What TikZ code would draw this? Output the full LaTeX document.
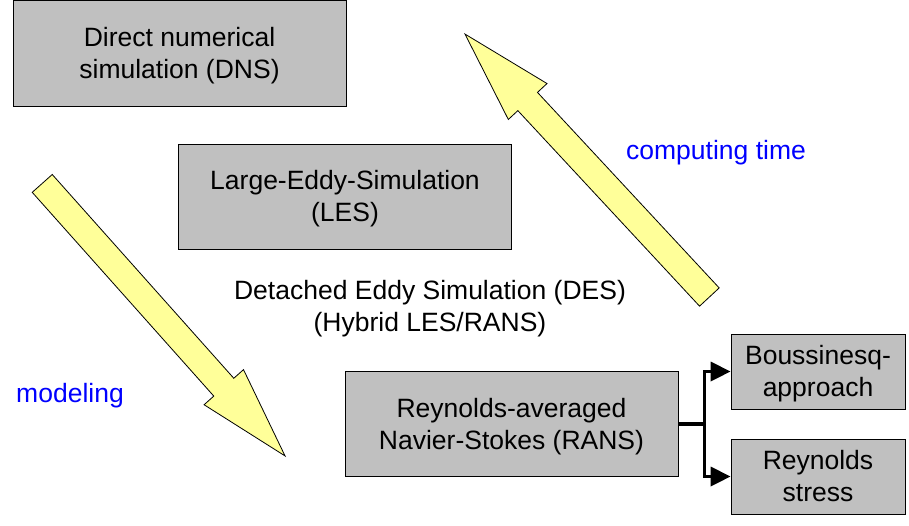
\documentclass[tikz,border=0pt]{standalone}
\usepackage{fontspec}
\setmainfont{Liberation Sans}
\usepackage{xcolor}
\usetikzlibrary{arrows.meta, positioning, shapes.arrows, calc}

\definecolor{boxgray}{HTML}{C0C0C0}
\definecolor{arrowyellow}{HTML}{FFFF99}

\begin{document}
\begin{tikzpicture}[
  x=1pt, y=-1pt,
  font=\fontsize{26.5}{32}\selectfont,
  twoline/.style={align=center, execute at begin node={\rule{0pt}{56pt}}, execute at end node={\rule[-5.6pt]{0pt}{0pt}}},
  oneline/.style={execute at begin node={\rule[-5.6pt]{0pt}{29.6pt}}},
  box/.style={draw, line width=0.8pt, fill=boxgray, minimum width=333pt, minimum height=106pt, inner sep=0pt, twoline},
  smallbox/.style={box, minimum width=174pt, minimum height=75pt},
  note/.style={text=blue, oneline},
  bigarrow/.style={single arrow, draw, line width=0.8pt, fill=arrowyellow, inner xsep=0pt, inner ysep=13pt,
    single arrow head extend=13pt, single arrow tip angle=32, single arrow head indent=0pt, anchor=tip},
  branch/.style={line width=3.5pt},
  edge/.style={branch, -{Triangle[length=20pt, width=19pt]}}
]
\useasboundingbox (0,0) rectangle (909,525);

\node[box] (dns) at (179.5,53) {Direct numerical\\simulation (DNS)};
\node[box, minimum height=105pt] (les) at (345,196.5) {Large-Eddy-Simulation\\(LES)};
\node[twoline] (des) at (430,306) {Detached Eddy Simulation (DES)\\(Hybrid LES/RANS)};
\node[box, minimum height=105pt] (rans) at (511.5,424) {Reynolds-averaged\\Navier-Stokes (RANS)};
\node[smallbox] (bq) at (818,371.5) {Boussinesq-\\approach};
\node[smallbox] (rs) at (818,476.5) {Reynolds\\stress};

\node[note] (ctime) at (716,150) {computing time};
\node[note] (model) at (70,393) {modeling};

% big yellow arrows
\node[bigarrow, minimum height=365pt, rotate=-48.3] (down) at (286,457) {};
\node[bigarrow, minimum height=359pt, rotate=132.9] (up) at (464,33) {};

% branch to the closure models
\coordinate (fork) at ($(rans.east)+(26,0)$);
\draw[branch] (rans.east) -- (fork);
\draw[branch, line cap=rect] (fork |- bq.west) -- (fork |- rs.west);
\draw[edge] (fork |- bq.west) -- (bq.west);
\draw[edge] (fork |- rs.west) -- (rs.west);
\end{tikzpicture}
\end{document}
